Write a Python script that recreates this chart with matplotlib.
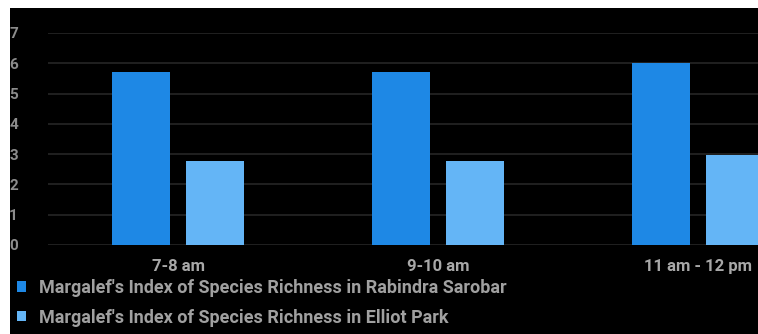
import numpy as np
import matplotlib.pyplot as plt
from matplotlib.patches import Rectangle

# Data
time_slots = ["7-8 am", "9-10 am", "11 am - 12 pm"]
rabindra = [5.7, 5.7, 6.0]
elliot = [2.77, 2.77, 2.97]
series_names = ["Margalef's Index of Species Richness in Rabindra Sarobar",
                "Margalef's Index of Species Richness in Elliot Park"]
colors = ["#1E88E5", "#64B5F6"]

plt.rcParams['font.family'] = ['Roboto', 'DejaVu Sans']

W, H = 758, 334
fig = plt.figure(figsize=(W / 100, H / 100), dpi=100, facecolor="white")

# black panel (the screenshot has a thin white margin at left and top)
fig.patches.append(Rectangle((10 / W, 0), 1, 1 - 8 / H, transform=fig.transFigure,
                             facecolor="black", edgecolor="none", zorder=-5))

# axes: left edge at x=48, bottom (value 0) at y=245, value 7 at y=33
ax_left, ax_right = 48 / W, 1.0
ax_bottom = 1 - 245 / H
ax_top = 1 - 33 / H
ax = fig.add_axes([ax_left, ax_bottom, ax_right - ax_left, ax_top - ax_bottom])
ax.set_facecolor("black")

x = np.arange(len(time_slots))
width = 0.223
offset = 0.142
b1 = ax.bar(x - offset, rabindra, width, color=colors[0], zorder=3)
b2 = ax.bar(x + offset, elliot, width, color=colors[1], zorder=3)

ax.set_ylim(0, 7)
ax.set_xlim(-0.5, (W - 48) / 260 - 0.5)
ax.set_yticks(range(0, 8))
ax.yaxis.grid(True, color="#262626", linewidth=1.2, zorder=0)
ax.set_axisbelow(True)
for s in ax.spines.values():
    s.set_visible(False)

ax.set_xticks(x)
ax.set_xticklabels(time_slots, fontweight="bold")
ax.tick_params(axis="x", length=0, colors="#a8a8a8", labelsize=12, pad=10)
ax.tick_params(axis="y", length=0, colors="#8c8c8c", labelsize=11, pad=28)
for lbl in ax.get_yticklabels():
    lbl.set_horizontalalignment("left")
    lbl.set_fontweight("bold")

# legend stacked below, left aligned
leg = fig.legend([b1, b2], series_names, loc="upper left",
                 bbox_to_anchor=(17 / W, 1 - 279 / H), frameon=False,
                 prop={"size": 13, "weight": "bold"}, labelcolor="#a0a0a0",
                 handlelength=0.5, handleheight=0.5, handletextpad=0.7,
                 labelspacing=0.65, borderaxespad=0, borderpad=0)

fig.savefig("out.png", dpi=100, facecolor=fig.get_facecolor())
